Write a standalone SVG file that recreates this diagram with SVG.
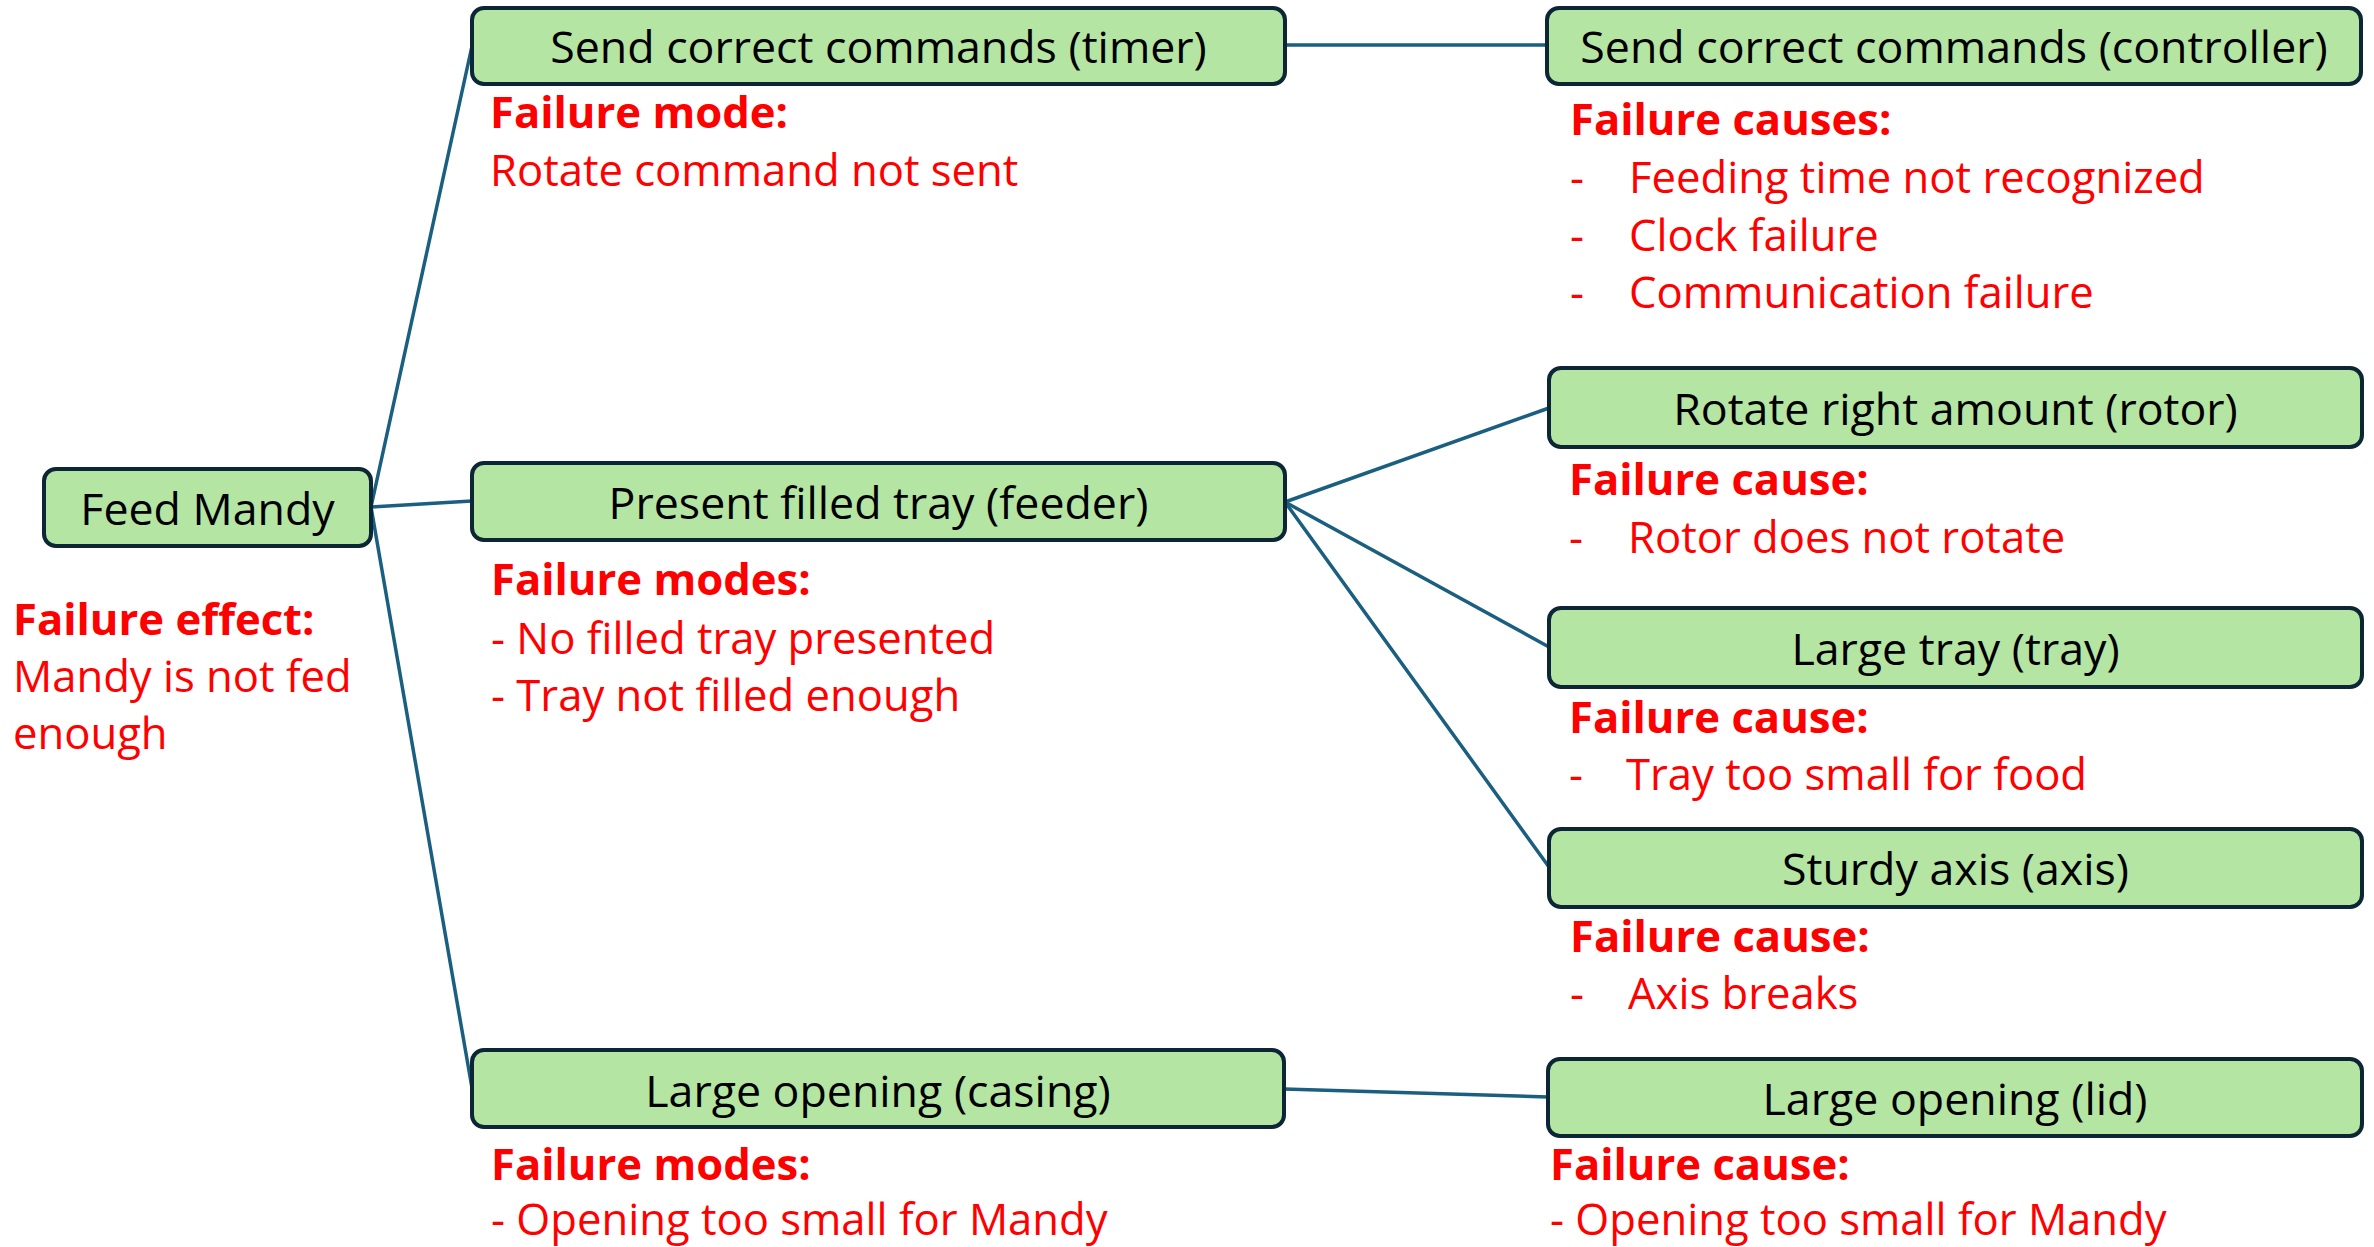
<svg xmlns="http://www.w3.org/2000/svg" width="2374" height="1247" viewBox="0 0 2374 1247">
<style>
.node rect{fill:#b5e5a3;stroke:#0c2636;stroke-width:4}
.node text{font-family:"Open Sans","Liberation Sans",sans-serif;font-size:44.7px;fill:#000;text-anchor:middle}
.conn line{stroke:#1b5f80;stroke-width:3.5;stroke-linecap:round}
.h{font-family:"Open Sans","Liberation Sans",sans-serif;font-size:43.6px;font-weight:bold;fill:#ff0000}
.t{font-family:"Open Sans","Liberation Sans",sans-serif;font-size:43.6px;fill:#ff0000}
</style>
<rect width="2374" height="1247" fill="#fff"/>
<g id="connectors" class="conn">
<line x1="371" y1="507" x2="472" y2="46"/>
<line x1="371" y1="507" x2="472" y2="501"/>
<line x1="371" y1="507" x2="472" y2="1088"/>
<line x1="1285" y1="45" x2="1547" y2="45"/>
<line x1="1285" y1="502" x2="1549" y2="408"/>
<line x1="1285" y1="502" x2="1549" y2="647"/>
<line x1="1285" y1="502" x2="1549" y2="867"/>
<line x1="1284" y1="1089" x2="1548" y2="1097"/>
</g>
<g id="feed-mandy" class="node"><rect x="44" y="469" width="327" height="77" rx="12"/><text x="207.5" y="525">Feed Mandy</text></g>
<g id="timer" class="node"><rect x="472" y="8" width="813" height="76" rx="12"/><text x="878.5" y="63">Send correct commands (timer)</text></g>
<g id="controller" class="node"><rect x="1547" y="8" width="814" height="76" rx="12"/><text x="1954" y="63">Send correct commands (controller)</text></g>
<g id="feeder" class="node"><rect x="472" y="463" width="813" height="77" rx="12"/><text x="878.5" y="519">Present filled tray (feeder)</text></g>
<g id="rotor" class="node"><rect x="1549" y="368" width="813" height="79" rx="12"/><text x="1955.5" y="425">Rotate right amount (rotor)</text></g>
<g id="tray" class="node"><rect x="1549" y="608" width="813" height="79" rx="12"/><text x="1955.5" y="665">Large tray (tray)</text></g>
<g id="axis" class="node"><rect x="1549" y="829" width="813" height="78" rx="12"/><text x="1955.5" y="885">Sturdy axis (axis)</text></g>
<g id="casing" class="node"><rect x="472" y="1050" width="812" height="77" rx="12"/><text x="878" y="1107">Large opening (casing)</text></g>
<g id="lid" class="node"><rect x="1548" y="1059" width="814" height="77" rx="12"/><text x="1955" y="1115">Large opening (lid)</text></g>
<g id="labels">
<text class="h" x="13" y="635">Failure effect:</text>
<text class="t" x="13" y="692">Mandy is not fed</text>
<text class="t" x="13" y="749">enough</text>
<text class="h" x="490" y="128">Failure mode:</text>
<text class="t" x="490" y="186">Rotate command not sent</text>
<text class="h" x="1570" y="135">Failure causes:</text>
<text class="t" x="1570" y="193">-</text><text class="t" x="1629" y="193">Feeding time not recognized</text>
<text class="t" x="1570" y="251">-</text><text class="t" x="1629" y="251">Clock failure</text>
<text class="t" x="1570" y="308">-</text><text class="t" x="1629" y="308">Communication failure</text>
<text class="h" x="491" y="595">Failure modes:</text>
<text class="t" x="491" y="654">- No filled tray presented</text>
<text class="t" x="491" y="711">- Tray not filled enough</text>
<text class="h" x="1569" y="495">Failure cause:</text>
<text class="t" x="1569" y="553">-</text><text class="t" x="1628" y="553">Rotor does not rotate</text>
<text class="h" x="1569" y="733">Failure cause:</text>
<text class="t" x="1569" y="790">-</text><text class="t" x="1626" y="790">Tray too small for food</text>
<text class="h" x="1570" y="952">Failure cause:</text>
<text class="t" x="1570" y="1009">-</text><text class="t" x="1628" y="1009">Axis breaks</text>
<text class="h" x="491" y="1180">Failure modes:</text>
<text class="t" x="491" y="1235">- Opening too small for Mandy</text>
<text class="h" x="1550" y="1180">Failure cause:</text>
<text class="t" x="1550" y="1235">- Opening too small for Mandy</text>
</g>
</svg>
